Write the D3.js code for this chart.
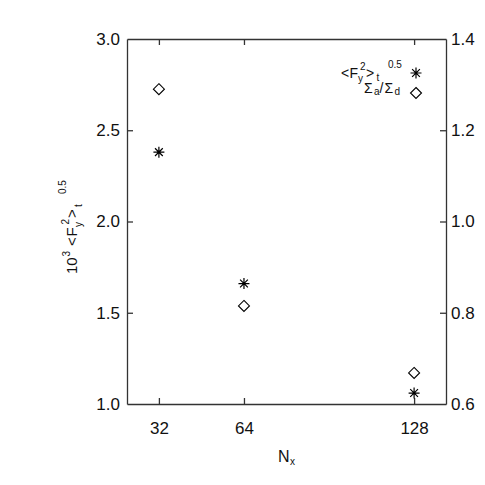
<!DOCTYPE html>
<meta charset="utf-8">
<style>
body { margin: 0; background: #fff; }
svg { font-family: "Liberation Sans", Arial, sans-serif; }
</style>
<script src="https://d3js.org/d3.v7.min.js"></script>
<body>
<svg id="chart" width="485" height="485"></svg>
<script>
// data
var nx = [32, 64, 128];
var fyRms = [2.38, 1.66, 1.06];        // 10^3 <Fy^2>_t^0.5, left axis
var sigmaRatio = [1.29, 0.815, 0.668]; // Sigma_a / Sigma_d, right axis
var xTicks = [32, 64, 128];
var leftTicks = [1.0, 1.5, 2.0, 2.5, 3.0];
var rightTicks = [0.6, 0.8, 1.0, 1.2, 1.4];

var svg = d3.select("#chart");
var L = 127, R = 446, T = 39, B = 404;
var axisCol = "#333";

var x = d3.scaleLinear().domain([20, 140]).range([L, R]);
var yl = d3.scaleLinear().domain([1.0, 3.0]).range([B, T]);
var yr = d3.scaleLinear().domain([0.6, 1.4]).range([B, T]);

// axes, IDL style ticks pointing inside
var axB = svg.append("g").attr("transform", "translate(0," + B + ")")
  .call(d3.axisBottom(x).tickValues(xTicks).tickSizeInner(-6).tickSizeOuter(0).tickPadding(18));
var axT = svg.append("g").attr("transform", "translate(0," + T + ")")
  .call(d3.axisTop(x).tickValues(xTicks).tickSizeInner(-6).tickSizeOuter(0).tickFormat(""));
var axL = svg.append("g").attr("transform", "translate(" + L + ",0)")
  .call(d3.axisLeft(yl).tickValues(leftTicks).tickSizeInner(-6).tickSizeOuter(0).tickPadding(7).tickFormat(d3.format(".1f")));
var axR = svg.append("g").attr("transform", "translate(" + R + ",0)")
  .call(d3.axisRight(yr).tickValues(rightTicks).tickSizeInner(-6).tickSizeOuter(0).tickPadding(5).tickFormat(d3.format(".1f")));

[axB, axT, axL, axR].forEach(function(a) {
  a.select(".domain").attr("stroke", axisCol).attr("stroke-width", 1.3);
  a.selectAll(".tick line").attr("stroke", axisCol).attr("stroke-width", 1.3);
  a.selectAll("text").attr("fill", "#111").style("font-size", "17px")
    .style("font-family", "Liberation Sans, Arial, sans-serif");
});
// corner ticks sit on the frame, hide them
axL.selectAll(".tick line").filter(function(d){ return d == 1.0 || d == 3.0; }).remove();
axR.selectAll(".tick line").filter(function(d){ return d == 0.6 || d == 1.4; }).remove();

// markers
function asterisk(s) {
  var d = s * 0.7071;
  return "M0," + (-s) + "L0," + s + "M" + (-s) + ",0L" + s + ",0" +
    "M" + (-d) + "," + (-d) + "L" + d + "," + d + "M" + (-d) + "," + d + "L" + d + "," + (-d);
}
function diamond(s) {
  return "M0," + (-s) + "L" + s + ",0L0," + s + "L" + (-s) + ",0Z";
}

svg.selectAll(".ast").data(nx).enter().append("path")
  .attr("class", "ast")
  .attr("transform", function(d, i) { return "translate(" + x(d) + "," + yl(fyRms[i]) + ")"; })
  .attr("d", asterisk(5.5)).attr("stroke", "#000").attr("stroke-width", 1.2).attr("fill", "none");

svg.selectAll(".dia").data(nx).enter().append("path")
  .attr("class", "dia")
  .attr("transform", function(d, i) { return "translate(" + x(d) + "," + yr(sigmaRatio[i]) + ")"; })
  .attr("d", diamond(5.5)).attr("stroke", "#000").attr("stroke-width", 1.1).attr("fill", "none");

// IDL-like formatted text: each piece placed at its own offset
function placed(g, pieces) {
  pieces.forEach(function(p) {
    g.append("text").attr("x", p.x).attr("y", p.dy || 0)
      .style("font-size", p.fs + "px").attr("fill", "#111").text(p.t);
  });
}

// y axis title, drawn along x then rotated
var yt = svg.append("g").attr("transform", "translate(77,274) rotate(-90)");
placed(yt, [
  {t: "10", fs: 15, x: 0},
  {t: "3", fs: 10, x: 17.5, dy: -7},
  {t: "<", fs: 15, x: 28},
  {t: "F", fs: 15, x: 37.5},
  {t: "y", fs: 10, x: 47, dy: 5},
  {t: "2", fs: 10, x: 49.5, dy: -8},
  {t: ">", fs: 15, x: 56},
  {t: "t", fs: 10, x: 67, dy: 5},
  {t: "0.5", fs: 10, x: 80, dy: -11}
]);

// x axis title
var xt = svg.append("g").attr("transform", "translate(278,462)");
placed(xt, [
  {t: "N", fs: 16, x: 0},
  {t: "x", fs: 10, x: 12, dy: 3}
]);

// legend
var lg1 = svg.append("g").attr("transform", "translate(341,78)");
placed(lg1, [
  {t: "<", fs: 14, x: 0},
  {t: "F", fs: 14, x: 8.5},
  {t: "y", fs: 10, x: 17, dy: 4},
  {t: "2", fs: 10, x: 19, dy: -8},
  {t: ">", fs: 14, x: 25},
  {t: "t", fs: 10, x: 35.5, dy: 3},
  {t: "0.5", fs: 10, x: 47, dy: -10}
]);

var lg2 = svg.append("g").attr("transform", "translate(364,93)");
placed(lg2, [
  {t: "\u03A3", fs: 14, x: 0},
  {t: "a", fs: 10, x: 10, dy: 2},
  {t: "/", fs: 14, x: 15.5},
  {t: "\u03A3", fs: 14, x: 20.5},
  {t: "d", fs: 10, x: 30.5, dy: 2}
]);

svg.append("path").attr("transform", "translate(416,73)")
  .attr("d", asterisk(5.5)).attr("stroke", "#000").attr("stroke-width", 1.2).attr("fill", "none");
svg.append("path").attr("transform", "translate(416,93)")
  .attr("d", diamond(5.5)).attr("stroke", "#000").attr("stroke-width", 1.1).attr("fill", "none");
</script>
</body>
